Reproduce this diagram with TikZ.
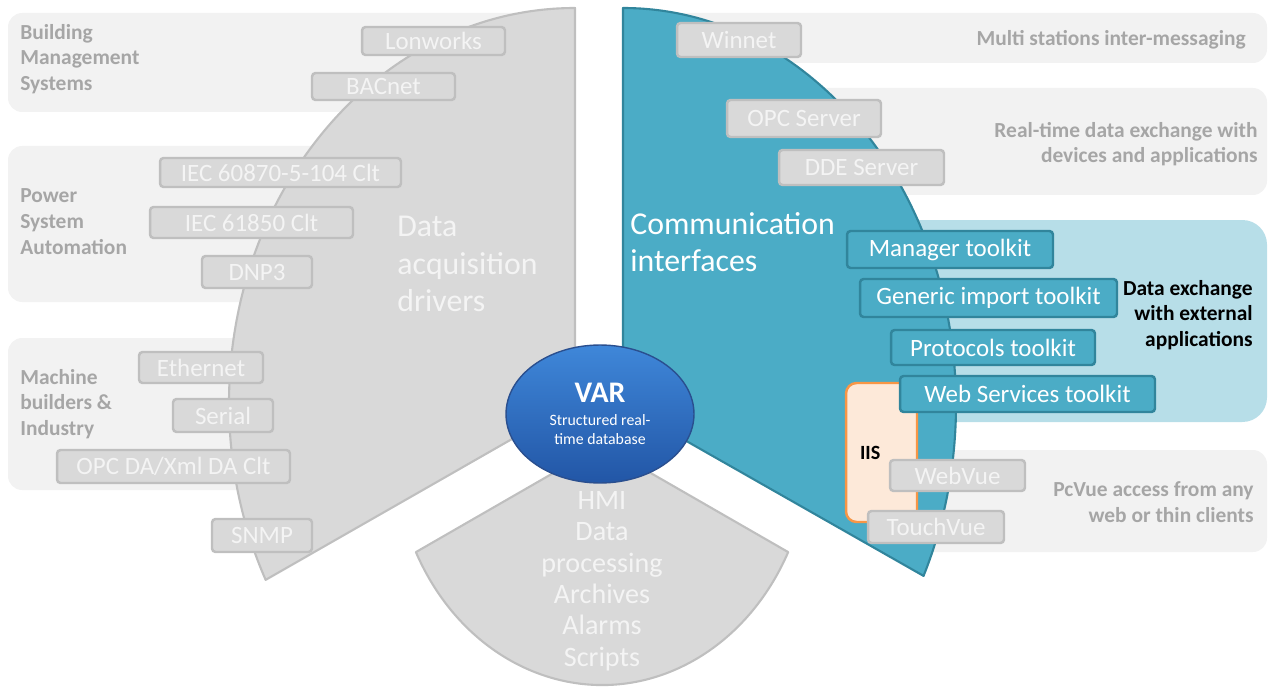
\documentclass[tikz,border=0pt]{standalone}
\usepackage{fontspec}
\setmainfont{Carlito}
\usepackage{tikz}
\usetikzlibrary{shapes.geometric}
\definecolor{secgrey}{HTML}{D9D9D9}
\definecolor{secborder}{HTML}{BFBFBF}
\definecolor{panelgrey}{HTML}{F2F2F2}
\definecolor{labelgrey}{HTML}{A6A6A6}
\definecolor{boxtext}{HTML}{F4F4F4}
\definecolor{comblue}{HTML}{4BACC6}
\definecolor{comborder}{HTML}{31859C}
\definecolor{xchblue}{HTML}{B7DEE8}
\definecolor{iisfill}{HTML}{FDE9D9}
\definecolor{iisborder}{HTML}{F79646}
\definecolor{varhi}{HTML}{3F87D9}
\definecolor{varlo}{HTML}{2256A6}
\definecolor{varborder}{HTML}{2A4F8F}
\newcommand{\fsz}[2]{\fontsize{#1pt}{#2pt}\selectfont}

\begin{document}
\begin{tikzpicture}[x=0.02cm, y=-0.02cm,
    panel/.style={fill=panelgrey, rounded corners=8pt},
    sector/.style={fill=secgrey, draw=secborder, line width=1.2pt, line join=round},
    comsector/.style={fill=comblue, draw=comborder, line width=1.2pt, line join=round},
    gbox/.style={rectangle, draw=secborder, line width=1.4pt, rounded corners=2pt, fill=secgrey,
                 text=boxtext, inner sep=0pt, font=\fsz{14.2}{16}},
    tbox/.style={rectangle, draw=comborder, line width=1.4pt, rounded corners=2pt, fill=comblue,
                 text=white, inner sep=0pt, font=\fsz{14.2}{16}},
    grouplbl/.style={anchor=west, align=left, inner sep=0pt, text=labelgrey, font=\bfseries\fsz{12.2}{14.7}},
    infolbl/.style={anchor=east, align=right, inner sep=0pt, text=labelgrey, font=\bfseries\fsz{12.2}{14.4}},
    sectitle/.style={anchor=west, align=left, inner sep=0pt, text=boxtext, font=\fsz{18.1}{21.4}}]
\useasboundingbox (0,0) rectangle (1270,689);
% background panels, partly hidden by the sectors
\fill[panel] (8,13) rectangle (560,112);
\fill[panel] (8,146) rectangle (560,302);
\fill[panel] (8,338) rectangle (400,490);
\fill[panel] (640,13) rectangle (1267,63);
\fill[panel] (640,88) rectangle (1267,195);
\fill[fill=xchblue, rounded corners=14pt] (660,220) rectangle (1267,422);
\fill[panel] (905,450) rectangle (1267,552);
% the three sectors round the database
\draw[sector] (575,403) -- (575,8) arc[start angle=270, end angle=153.4, x radius=346, y radius=395] -- cycle;
\draw[comsector] (623,405) -- (623,8) arc[start angle=270, end angle=385.5, x radius=333, y radius=397] -- cycle;
\draw[sector] (602,445) -- (415.9,552.1) arc[start angle=153.5, end angle=26.5, x radius=208, y radius=240] -- cycle;
% group labels
\node[grouplbl] (bms) at (20,59) {Building\\Management\\Systems};
\node[grouplbl] (psa) at (20,221.5) {Power\\System\\Automation};
\node[grouplbl] (mbi) at (20,404) {Machine\\builders \&\\Industry};
\node[infolbl] (msg) at (1246,40) {Multi stations inter-messaging};
\node[infolbl] (rtx) at (1258,144.5) {Real-time data exchange with\\devices and applications};
\node[infolbl] (pcv) at (1254,502) {PcVue access from any\\web or thin clients};
\node[infolbl, text=black, font=\bfseries\fsz{12.2}{14.7}] (xch) at (1253,315) {Data exchange\\with external\\applications};
% sector titles
\node[sectitle] (daq) at (397,264) {Data\\acquisition\\drivers};
\node[sectitle, text=white, font=\fsz{18.1}{21}] (com) at (630,242.5) {Communication\\interfaces};
\node[align=center, inner sep=0pt, text=boxtext, font=\fsz{16}{17.9}] (hmi) at (602,581) {HMI\\Data\\processing\\Archives\\Alarms\\Scripts};
% acquisition drivers
\node[gbox, minimum width=2.86cm, minimum height=0.56cm] (lon) at (433.5,41) {Lonworks};
\node[gbox, minimum width=2.86cm, minimum height=0.54cm] (bac) at (383.5,86.5) {BACnet};
\node[gbox, minimum width=4.82cm, minimum height=0.58cm] (iec104) at (280.5,172.5) {IEC 60870-5-104 Clt};
\node[gbox, minimum width=4.06cm, minimum height=0.62cm] (iec61850) at (251.5,222.5) {IEC 61850 Clt};
\node[gbox, minimum width=2.20cm, minimum height=0.64cm] (dnp) at (257,272) {DNP3};
\node[gbox, minimum width=2.48cm, minimum height=0.62cm] (eth) at (201,367.5) {Ethernet};
\node[gbox, minimum width=2.00cm, minimum height=0.66cm] (ser) at (223,415.5) {Serial};
\node[gbox, minimum width=4.66cm, minimum height=0.66cm] (opcda) at (173.5,466.5) {OPC DA/Xml DA Clt};
\node[gbox, minimum width=2.00cm, minimum height=0.66cm] (snmp) at (262,535.5) {SNMP};
% communication interfaces
\node[gbox, minimum width=2.48cm, minimum height=0.68cm] (winnet) at (739,40) {Winnet};
\node[gbox, minimum width=3.08cm, minimum height=0.74cm] (opcsrv) at (804,118.5) {OPC Server};
\node[gbox, minimum width=3.30cm, minimum height=0.70cm] (ddesrv) at (861.5,167.5) {DDE Server};
\node[rectangle, draw=iisborder, line width=1.4pt, rounded corners=6pt, fill=iisfill,
      minimum width=1.42cm, minimum height=2.78cm, text width=0.86cm, align=left,
      inner xsep=0.28cm, font=\bfseries\fsz{11.5}{13}] (iis) at (881.5,452.5) {IIS};
\node[tbox, minimum width=4.12cm, minimum height=0.74cm] (mgr) at (950,249.5) {Manager toolkit};
\node[tbox, minimum width=5.14cm, minimum height=0.76cm] (gen) at (988.5,298) {Generic import toolkit};
\node[tbox, minimum width=4.08cm, minimum height=0.70cm] (proto) at (993,347.5) {Protocols toolkit};
\node[tbox, minimum width=5.10cm, minimum height=0.72cm] (websvc) at (1027.5,394) {Web Services toolkit};
\node[gbox, minimum width=2.70cm, minimum height=0.62cm] (webvue) at (957.5,475.5) {WebVue};
\node[gbox, minimum width=2.72cm, minimum height=0.64cm] (touchvue) at (936,527) {TouchVue};
% real-time database in the middle
\node[ellipse, draw=varborder, line width=0.8pt, top color=varhi, bottom color=varlo, text=white,
      minimum width=3.76cm, minimum height=2.76cm, inner sep=0pt, align=center, font=\fsz{9}{10.8}] (var) at (600,414)
      {{\bfseries\fsz{17}{20}VAR}\\[2pt]Structured real-\\time database};
\end{tikzpicture}
\end{document}
